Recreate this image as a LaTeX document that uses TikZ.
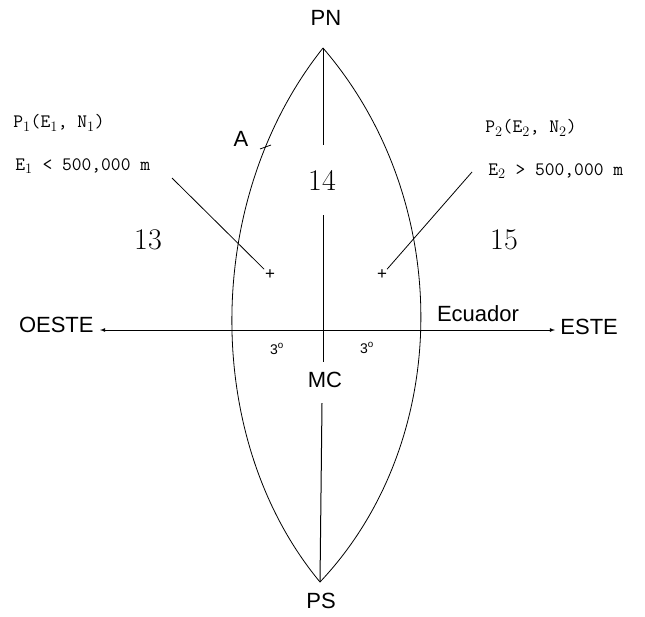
\documentclass[tikz,border=0pt]{standalone}
\usepackage{fontspec}
\setsansfont{Liberation Sans}
\usepackage{tikz}
\usetikzlibrary{calc, positioning}

\begin{document}
\begin{tikzpicture}[>=latex, x=1pt, y=-1pt, line width=0.8pt,
    etiq/.style={font=\sffamily\fontsize{22}{24}\selectfont, inner sep=0pt},
    zona/.style={font=\fontsize{30}{32}\selectfont, inner sep=0pt},
    coord/.style={font=\ttfamily\fontsize{19}{21}\selectfont, inner sep=0pt, anchor=west},
    grado/.style={font=\sffamily\fontsize{14}{16}\selectfont, inner sep=0pt},
    marca/.style={font=\sffamily\fontsize{17}{17}\selectfont, inner sep=0.5pt}]
    \useasboundingbox (0,0) rectangle (645,616);

    % Polos y limites del huso
    \coordinate (PN) at (323,48);
    \coordinate (PS) at (320,582);
    \draw (PN) .. controls (202,200) and (202,440) .. (PS);
    \draw (PN) .. controls (454,200) and (454,440) .. (PS);
    \node[etiq] (pn) at (326,18) {PN};
    \node[etiq] (ps) at (321,601) {PS};

    % Meridiano central
    \node[zona] (z14) at (322,180) {14};
    \node[etiq] (mc) at (325,380) {MC};
    \coordinate (m1) at (323,145);
    \coordinate (m2) at (323,215);
    \coordinate (m3) at (323,362);
    \coordinate (m4) at (322,403);
    \draw[line width=1pt] (PN) -- (m1);
    \draw[line width=1pt] (m2) -- (m3);
    \draw[line width=1pt] (m4) -- (PS);

    % Ecuador
    \coordinate (O) at (100,330);
    \coordinate (E) at (555,330);
    \draw[<->] (O) -- (E);
    \node[etiq, left=6pt of O, yshift=5pt] (oeste) {OESTE};
    \node[etiq, right=5pt of E, yshift=3pt] (este) {ESTE};
    \node[etiq] (ecuador) at (478,314) {Ecuador};
    \node[grado] (g1) at (277,349) {3\textsuperscript{o}};
    \node[grado] (g2) at (367,348) {3\textsuperscript{o}};

    % Zonas vecinas
    \node[zona] (z13) at (148,240) {13};
    \node[zona] (z15) at (504,240) {15};

    % Punto A
    \node[etiq] (a) at (241,139) {A};
    \draw (260,149) -- (271,145);

    % Puntos P1 y P2
    \node[marca] (p1) at (270,275) {+};
    \node[marca] (p2) at (382,275) {+};
    \node[coord] (t1) at (13,123) {P$_1$(E$_1$, N$_1$)};
    \node[coord] (u1) at (15,166) {E$_1$ < 500,000 m};
    \node[coord] (t2) at (485,128) {P$_2$(E$_2$, N$_2$)};
    \node[coord] (u2) at (488,171) {E$_2$ > 500,000 m};
    \coordinate (l1) at (172,178);
    \coordinate (l2) at (472,172);
    \draw (l1) -- (p1);
    \draw (l2) -- (p2);
\end{tikzpicture}
\end{document}
